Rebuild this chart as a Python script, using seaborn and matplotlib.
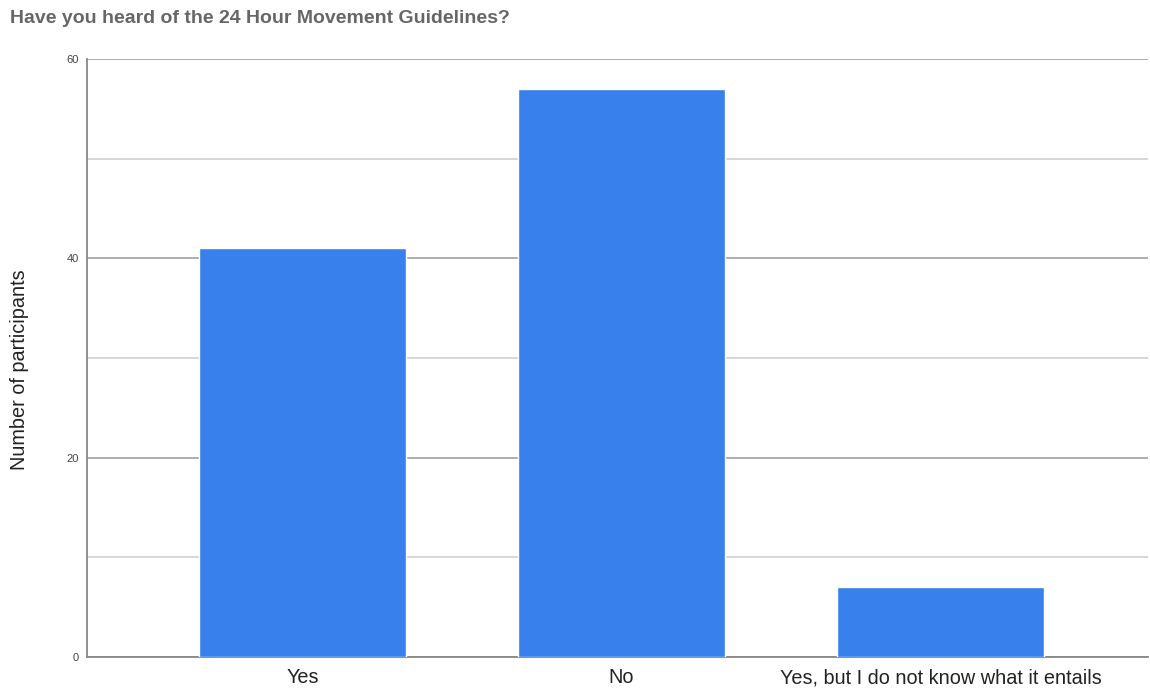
import matplotlib
matplotlib.use("Agg")
import matplotlib.pyplot as plt
import seaborn as sns
import pandas as pd

categories = ["Yes", "No", "Yes, but I do not know what it entails"]
participants = [41, 57, 7]
major_ticks = [0, 20, 40, 60]
minor_ticks = [10, 30, 50]

df = pd.DataFrame({"Answer": categories, "Participants": participants})

sns.set_theme(style="white")
plt.rcParams["font.family"] = ["Liberation Sans", "DejaVu Sans"]

fig = plt.figure(figsize=(11.5, 6.88), dpi=100)
ax = fig.add_axes([0.0757, 0.045, 0.9223, 0.869])

sns.barplot(data=df, x="Answer", y="Participants", color="#3880eb",
            width=0.649, saturation=1, ax=ax, zorder=3)

ax.set_ylim(0, 60)
ax.set_xlim(-0.676, 2.65)
ax.set_yticks(major_ticks)
ax.set_yticks(minor_ticks, minor=True)
ax.yaxis.grid(True, which="major", color="#a0a0a0", linewidth=1.2, zorder=0)
ax.yaxis.grid(True, which="minor", color="#d0d0d0", linewidth=1.2, zorder=0)
ax.set_axisbelow(True)
ax.tick_params(axis="y", which="both", length=0, labelsize=8, labelcolor="#444444", pad=6)
ax.tick_params(axis="x", length=0, labelsize=14.3, labelcolor="#222222", pad=8)

for s in ["top", "right"]:
    ax.spines[s].set_visible(False)
for s in ["left", "bottom"]:
    ax.spines[s].set_color("#888888")
    ax.spines[s].set_linewidth(1.3)

ax.set_xlabel("")
ax.set_ylabel("Number of participants", fontsize=14.3, color="#222222")
ax.yaxis.set_label_coords(-0.055, 0.48)

fig.text(0.009, 0.973, "Have you heard of the 24 Hour Movement Guidelines?",
         fontsize=14, fontweight="bold", color="#666666", ha="left", va="center")

fig.savefig("out.png", dpi=100)
